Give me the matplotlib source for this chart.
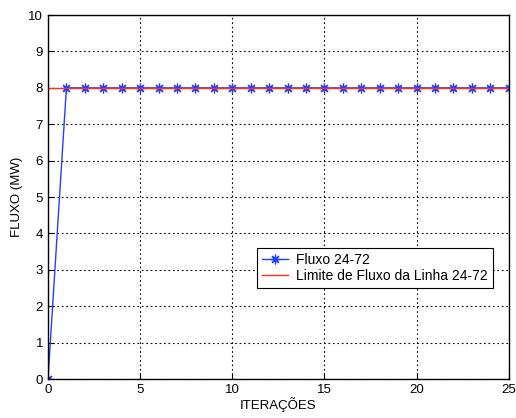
import numpy as np
import matplotlib
matplotlib.use("Agg")
from matplotlib import pyplot as plt

plt.rcParams['font.family'] = ['Liberation Sans', 'DejaVu Sans']

iteracoes = list(range(26))
fluxo = [0, 8, 8, 8, 8, 8, 8, 8, 8, 8, 8, 8, 8, 8, 8, 8, 8, 8, 8, 8, 8, 8, 8, 8, 8, 8]
limite = [8] * 26
xticks = [0, 5, 10, 15, 20, 25]
yticks = list(range(11))

fig = plt.figure(figsize=(5.16, 4.18), dpi=100)
ax = fig.add_axes([0.093, 0.093, 0.893, 0.871])

# asterisk marker, like matlab's '*'
ax.plot(iteracoes, fluxo, color='#2040ff', marker=(8, 2, 0), markersize=7,
        markeredgewidth=0.9, linewidth=1.0, label='Fluxo 24-72')
ax.plot(iteracoes, limite, color='#ff3020', linewidth=1.0,
        label='Limite de Fluxo da Linha 24-72')

ax.set_xlim(0, 25)
ax.set_ylim(0, 10)
ax.set_xticks(xticks)
ax.set_yticks(yticks)
ax.tick_params(direction='in', length=4, labelsize=9.5, colors='black')
ax.grid(True, color='black', linestyle=(0, (1.5, 2.5)), linewidth=0.8)
for s in ax.spines.values():
    s.set_linewidth(1.0)

ax.set_xlabel('ITERAÇÕES', fontsize=9.5, labelpad=1)
ax.set_ylabel('FLUXO (MW)', fontsize=9.5, labelpad=4)

leg = ax.legend(loc='lower left', bbox_to_anchor=(0.453, 0.25), fontsize=10,
                fancybox=False, framealpha=1, edgecolor='black', numpoints=1,
                borderpad=0.35, handlelength=1.9, handletextpad=0.6,
                labelspacing=0.15, borderaxespad=0)
leg.get_frame().set_linewidth(0.8)

fig.savefig('out.png', dpi=100)
